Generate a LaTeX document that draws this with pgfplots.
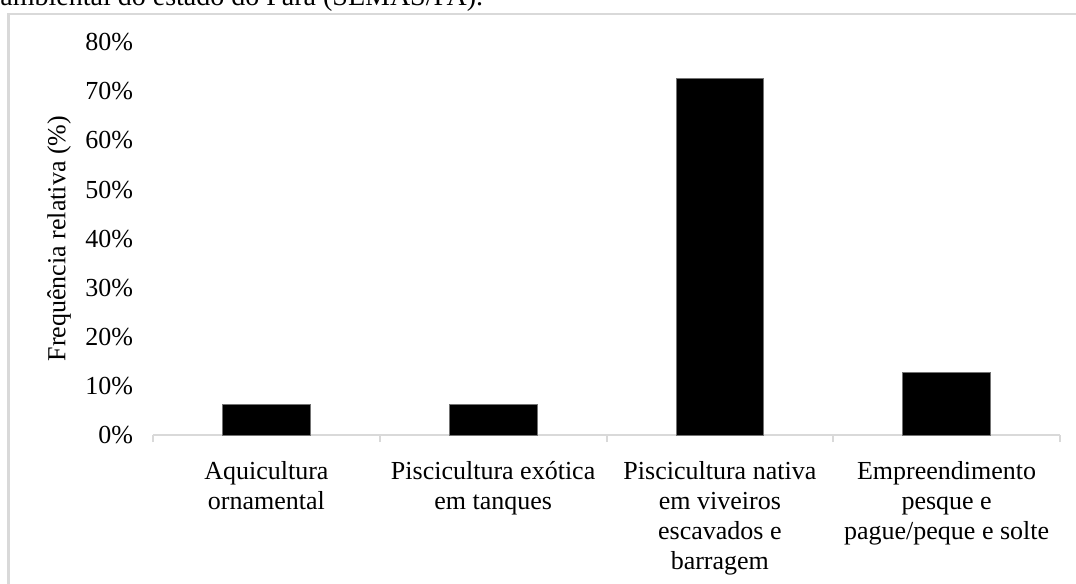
\documentclass[border=0pt]{standalone}
\usepackage{fontspec}
\setmainfont{Liberation Serif}
\usepackage{pgfplots}
\pgfplotsset{compat=1.18}
\usetikzlibrary{calc}
\definecolor{framegray}{HTML}{D9D9D9}

\begin{document}
\begin{tikzpicture}
\begin{axis}[
  name=ax,
  scale only axis,
  width=453.5pt, height=196.4pt,
  ybar, bar width=43.8pt,
  xmin=-0.5, xmax=3.5, ymin=0, ymax=80,
  xtick={0,1,2,3},
  xticklabels={{Aquicultura\\ornamental},{Piscicultura exótica\\em tanques},{Piscicultura nativa\\em viveiros\\escavados e\\barragem},{Empreendimento\\pesque e\\pague/peque e solte}},
  xticklabel style={align=center, yshift=-9.8pt},
  xtick style={draw=none}, major tick length=0pt,
  extra x ticks={-0.5,0.5,1.5,2.5,3.5},
  extra x tick labels={,,,,},
  extra x tick style={major tick length=3.5pt, tick align=outside,
    xtick style={draw=framegray, line width=1pt}},
  ytick={0,10,...,80},
  yticklabels={0\%,10\%,20\%,30\%,40\%,50\%,60\%,70\%,80\%},
  yticklabel style={xshift=-6.4pt},
  ytick style={draw=none},
  axis lines*=left,
  axis line style={-},
  x axis line style={draw=framegray, line width=1.2pt},
  y axis line style={draw=none},
  ylabel={Frequência relativa (\%)},
  every axis y label/.style={at={(axis description cs:-0.1036,0.5)}, rotate=90, anchor=center},
  tick label style={font=\fontsize{13}{15}\selectfont},
  label style={font=\fontsize{13}{15}\selectfont},
]
\addplot[fill=black, draw=black!55, line width=0.4pt] coordinates {(0,6.25)(1,6.25)(2,72.6)(3,12.8)};
\end{axis}
\coordinate (BL) at ($(ax.south west)+(-76.5pt,-74pt)$);
\coordinate (TR) at ($(ax.north east)+(8pt,21.15pt)$);
% chart frame, cut by the page on the right and at the bottom
\draw[framegray, line width=1.2pt] ($(BL)+(4.25pt,-20pt)$) |- ($(TR)+(20pt,-7pt)$);
% last line of the caption above, cut at the top of the page
\node[anchor=base west, inner sep=0pt, font=\fontsize{14}{16}\selectfont]
  at ($(BL|-TR)+(0pt,-3pt)$) {ambiental do estado do Pará (SEMAS/PA).};
\pgfresetboundingbox
\useasboundingbox (BL) rectangle (TR);
\end{tikzpicture}
\end{document}
